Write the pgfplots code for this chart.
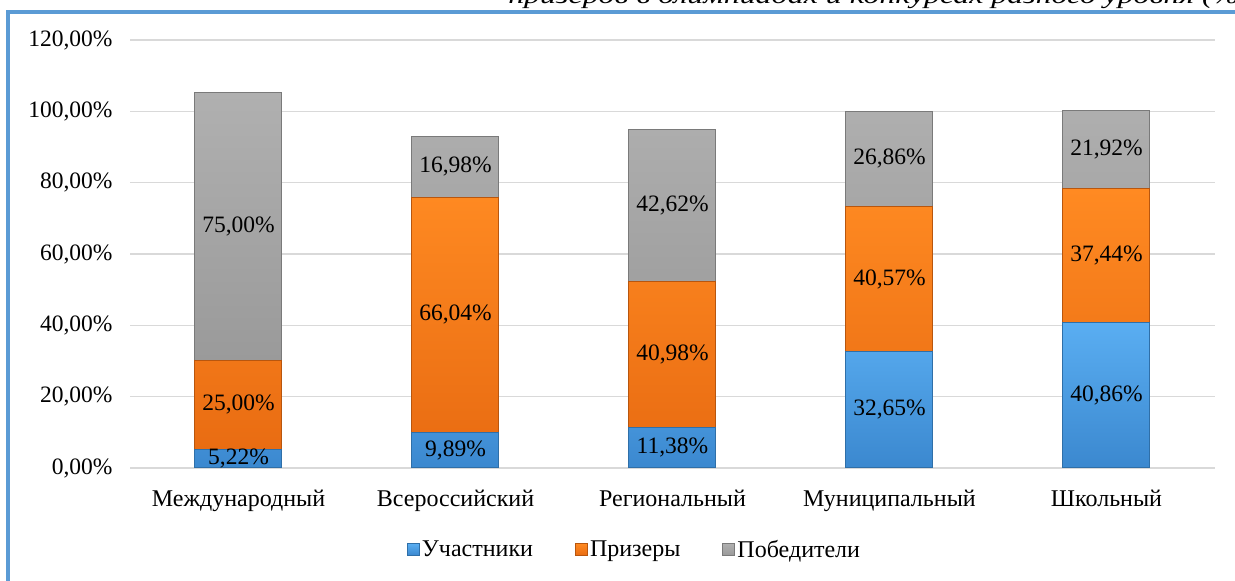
\documentclass[border=0pt]{standalone}
\usepackage{pgfplots}
\pgfplotsset{compat=1.18}
\usepackage{fontspec}
\setmainfont{Liberation Serif}
\definecolor{frameblue}{HTML}{5B9BD5}
\definecolor{bTop}{HTML}{5AAEF2}
\definecolor{bBot}{HTML}{3B88CF}
\definecolor{bEdge}{HTML}{2F6FA8}
\definecolor{oTop}{HTML}{FF8A22}
\definecolor{oBot}{HTML}{E96C12}
\definecolor{oEdge}{HTML}{B8560E}
\definecolor{gTop}{HTML}{B0B0B0}
\definecolor{gBot}{HTML}{9A9A9A}
\definecolor{gEdge}{HTML}{7A7A7A}
\definecolor{gridc}{HTML}{D9D9D9}
\pgfplotstableread{
x y v
0 2.61 5.22
1 4.945 9.89
2 5.69 11.38
3 16.325 32.65
4 20.43 40.86
0 17.72 25.00
1 42.91 66.04
2 31.87 40.98
3 52.935 40.57
4 59.58 37.44
0 67.72 75.00
1 84.42 16.98
2 73.67 42.62
3 86.65 26.86
4 89.26 21.92
}\labeltable
\pgfplotsset{geom/.style={
  at={(130pt,113pt)}, anchor=south west,
  width=1085pt, height=428pt, scale only axis,
  xmin=-0.5, xmax=4.5, ymin=0, ymax=120}}
\begin{document}
\begin{tikzpicture}[x=1pt,y=1pt]
\path[use as bounding box] (0,0) rectangle (1235,581);
\node[anchor=base west, font=\fontsize{24}{28}\selectfont\itshape, inner sep=0, xscale=1.33] at (508,577) {призеров в олимпиадах и конкурсах разного уровня (\%)};
\draw[color=frameblue, line width=4pt] (8,-5) -- (8,569) -- (1245,569);
\begin{axis}[geom,
  ybar stacked, bar width=87pt,
  ytick={0,20,...,120},
  xtick={0,1,2,3,4},
  xticklabels={Международный,Всероссийский,Региональный,Муниципальный,Школьный},
  ymajorgrids, grid style={draw=gridc, line width=1.3pt},
  axis line style={draw=none}, major tick length=0pt,
  /pgf/number format/assume math mode=true,
  yticklabel={\pgfmathprintnumber[fixed,fixed zerofill,precision=2,use comma]{\tick}\%},
  yticklabel style={font=\fontsize{23.5}{27}\selectfont, anchor=east, xshift=-14pt},
  xticklabel style={font=\fontsize{24}{28}\selectfont, anchor=base, yshift=-39pt},
  legend columns=3,
  legend style={draw=none, at={(0.465,-0.19)}, anchor=center,
    font=\fontsize{24}{28}\selectfont,
    /tikz/every odd column/.append style={column sep=0pt},
    /tikz/every even column/.append style={column sep=40pt}},
  legend image code/.code={\path[#1] (0pt,-6pt) rectangle (12pt,6pt);},
]
\addplot[top color=bTop, bottom color=bBot, draw=bEdge, line width=1pt]
  coordinates {(0,5.22) (1,9.89) (2,11.38) (3,32.65) (4,40.86)};
\addlegendentry{Участники}
\addplot[top color=oTop, bottom color=oBot, draw=oEdge, line width=1pt]
  coordinates {(0,25.00) (1,66.04) (2,40.98) (3,40.57) (4,37.44)};
\addlegendentry{Призеры}
\addplot[top color=gTop, bottom color=gBot, draw=gEdge, line width=1pt]
  coordinates {(0,75.00) (1,16.98) (2,42.62) (3,26.86) (4,21.92)};
\addlegendentry{Победители}
\end{axis}
\begin{axis}[geom, hide axis, clip=false]
\addplot[only marks, mark=none, point meta=explicit,
  nodes near coords={\pgfmathprintnumber[fixed,fixed zerofill,precision=2,use comma,assume math mode=true]{\pgfplotspointmeta}\%},
  every node near coord/.style={anchor=center, inner sep=0pt, font=\fontsize{23.5}{28}\selectfont, text=black}]
  table[x=x, y=y, meta=v] {\labeltable};
\end{axis}
\end{tikzpicture}
\end{document}
